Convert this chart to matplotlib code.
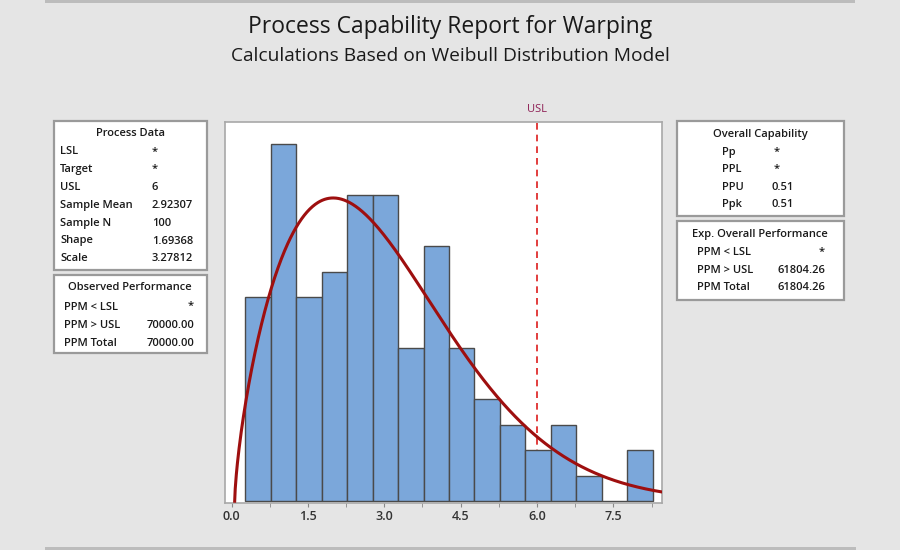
import numpy as np
import matplotlib
matplotlib.use("Agg")
import matplotlib.pyplot as plt
from matplotlib.patches import Rectangle

plt.rcParams['font.family'] = ['Open Sans', 'DejaVu Sans']

# ---- data ----
bin_start = 0.27
bin_width = 0.5
counts = [8, 14, 8, 9, 12, 12, 6, 10, 6, 4, 3, 2, 3, 1, 0, 2]
usl = 6.0
shape = 1.69368
scale = 3.27812
n_samples = 100
tick_values = [0.0, 1.5, 3.0, 4.5, 6.0, 7.5]
tick_labels = ["0.0", "1.5", "3.0", "4.5", "6.0", "7.5"]

process_labels = ["LSL", "Target", "USL", "Sample Mean", "Sample N", "Shape", "Scale"]
process_values = ["*", "*", "6", "2.92307", "100", "1.69368", "3.27812"]
observed_labels = ["PPM < LSL", "PPM > USL", "PPM Total"]
observed_values = ["*", "70000.00", "70000.00"]
capability_labels = ["Pp", "PPL", "PPU", "Ppk"]
capability_values = ["*", "*", "0.51", "0.51"]
expected_labels = ["PPM < LSL", "PPM > USL", "PPM Total"]
expected_values = ["*", "61804.26", "61804.26"]

W, H = 900, 550
fig = plt.figure(figsize=(9, 5.5), dpi=100, facecolor='#e5e5e5')

def fx(px):
    return px / W

def fy(py):
    return 1 - py / H

# frame lines top / bottom
fig.patches.append(Rectangle((fx(45), fy(3)), fx(810), 3 / H, transform=fig.transFigure,
                             facecolor='#bcbcbc', edgecolor='none'))
fig.patches.append(Rectangle((fx(45), fy(550)), fx(811), 3 / H, transform=fig.transFigure,
                             facecolor='#bcbcbc', edgecolor='none'))

fig.text(0.5, fy(27), "Process Capability Report for Warping", ha='center', va='center',
         fontsize=16.5, color='#1a1a1a')
fig.text(0.5, fy(56), "Calculations Based on Weibull Distribution Model", ha='center', va='center',
         fontsize=13.8, color='#1a1a1a')

ax = fig.add_axes([fx(224.5), fy(503), fx(437.2), (503 - 121.5) / H])
ax.set_facecolor('white')
edges = bin_start + bin_width * np.arange(len(counts) + 1)
ax.bar(edges[:-1], counts, width=bin_width, align='edge', color='#7ba7da',
       edgecolor='#4a4a4a', linewidth=1.0, zorder=2)

ax.axvline(usl, color='#dd1c1c', linestyle=(0, (4, 3)), linewidth=1.2, zorder=1)

xs = np.linspace(0.0, 8.6, 800)
pdf = (shape / scale) * (xs / scale) ** (shape - 1) * np.exp(-(xs / scale) ** shape)
ax.plot(xs + 0.06, pdf * n_samples * bin_width, color='#9e0f0f', linewidth=2.2, zorder=3)

ax.set_xlim(-0.14, 8.45)
ax.set_ylim(-0.07, 14.9)
ax.set_yticks([])
ax.set_xticks(tick_values)
ax.set_xticklabels(tick_labels)
ax.set_xticks(np.arange(0.75, 8.3, 1.5), minor=True)
ax.tick_params(axis='x', which='both', length=3, color='#888888', labelsize=9,
               labelcolor='#333333', pad=2)
for lbl in ax.get_xticklabels():
    lbl.set_fontweight('semibold')
for s in ax.spines.values():
    s.set_color('#a8a8a8')
    s.set_linewidth(1.2)

fig.text(fx(537), fy(109), "USL", ha='center', va='center', fontsize=8, color='#8e1f55')

def box(x0, y0, x1, y1):
    fig.patches.append(Rectangle((fx(x0), fy(y1)), fx(x1 - x0), (y1 - y0) / H,
                                 transform=fig.transFigure, facecolor='white',
                                 edgecolor='#9a9a9a', linewidth=1.6))

fs = 8.0
tc = '#1a1a1a'
kw = dict(fontsize=fs, color=tc, weight='semibold', va='center')
# Process Data
box(54, 121, 207, 270)
fig.text(fx(130), fy(134), "Process Data", ha='center', **kw)
for i, (l, v) in enumerate(zip(process_labels, process_values)):
    y = 152 + i * 17.8
    fig.text(fx(60), fy(y), l, ha='left', **kw)
    fig.text(fx(152), fy(y), v, ha='left', **kw)

# Observed Performance
box(54, 275, 207, 353)
fig.text(fx(130), fy(288), "Observed Performance", ha='center', **kw)
for i, (l, v) in enumerate(zip(observed_labels, observed_values)):
    y = 307 + i * 18
    fig.text(fx(64), fy(y), l, ha='left', **kw)
    fig.text(fx(194), fy(y), v, ha='right', **kw)

# Overall Capability
box(677, 121, 844, 216)
fig.text(fx(760), fy(134), "Overall Capability", ha='center', **kw)
for i, (l, v) in enumerate(zip(capability_labels, capability_values)):
    y = 152 + i * 17.5
    fig.text(fx(722), fy(y), l, ha='left', **kw)
    if v == "*":
        fig.text(fx(777), fy(y), v, ha='center', **kw)
    else:
        fig.text(fx(772), fy(y), v, ha='left', **kw)

# Exp. Overall Performance
box(677, 221, 844, 300)
fig.text(fx(760), fy(234), "Exp. Overall Performance", ha='center', **kw)
for i, (l, v) in enumerate(zip(expected_labels, expected_values)):
    y = 252 + i * 18
    fig.text(fx(697), fy(y), l, ha='left', **kw)
    fig.text(fx(825), fy(y), v, ha='right', **kw)

fig.savefig("out.png", dpi=100, facecolor=fig.get_facecolor())
